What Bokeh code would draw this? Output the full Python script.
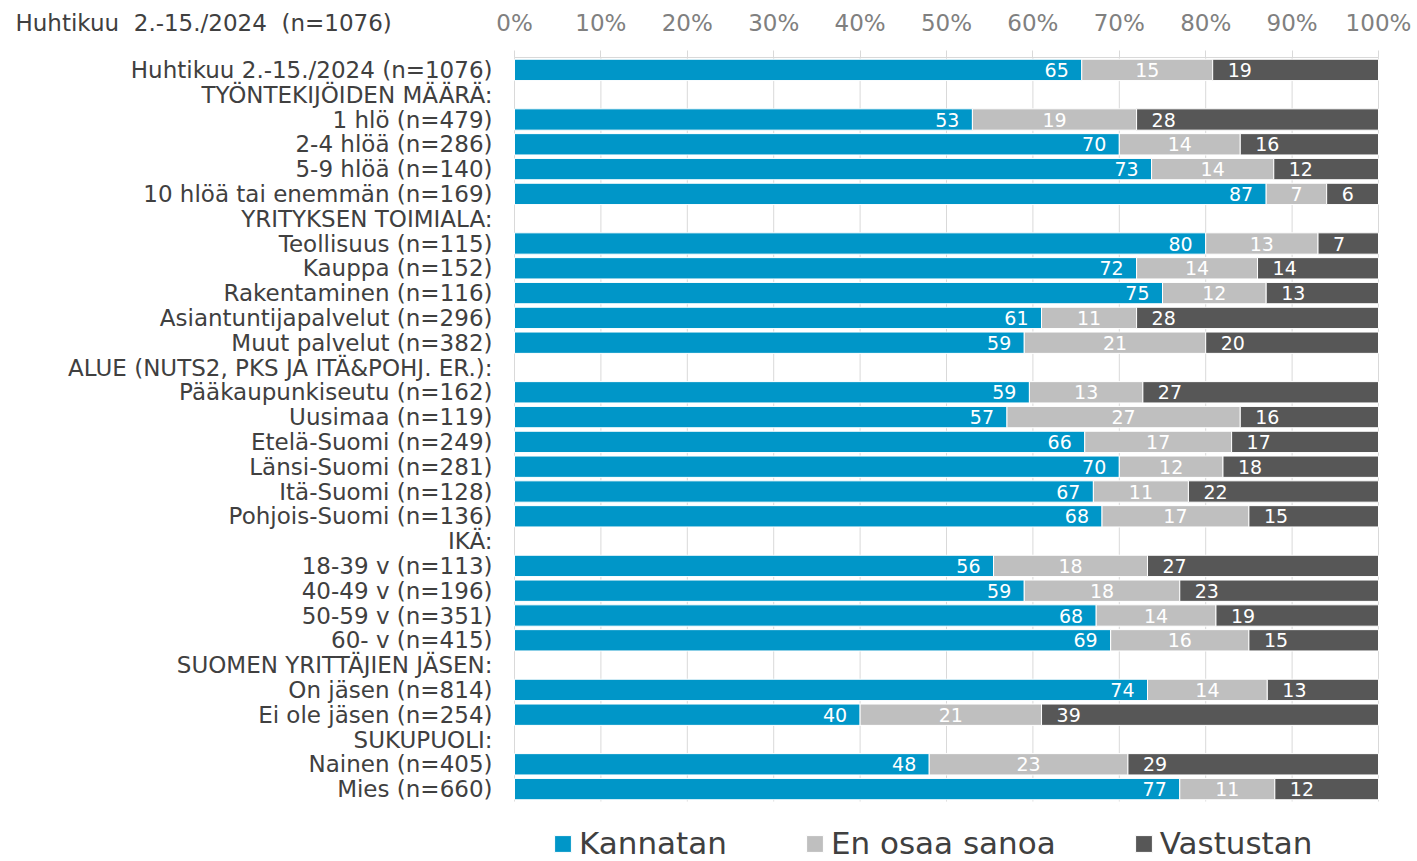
from bokeh.plotting import figure
from bokeh.models import (Range1d, FixedTicker, Label, Legend, LegendItem,
                          ColumnDataSource, LinearAxis)
from bokeh.embed import file_html
from bokeh.resources import INLINE
from bokeh.core.properties import value

title_text = "Huhtikuu\u00a0 2.-15./2024\u00a0 (n=1076)"

categories = [
    "Huhtikuu 2.-15./2024 (n=1076)",
    "TYÖNTEKIJÖIDEN MÄÄRÄ:",
    "1 hlö (n=479)",
    "2-4 hlöä (n=286)",
    "5-9 hlöä (n=140)",
    "10 hlöä tai enemmän (n=169)",
    "YRITYKSEN TOIMIALA:",
    "Teollisuus (n=115)",
    "Kauppa (n=152)",
    "Rakentaminen (n=116)",
    "Asiantuntijapalvelut (n=296)",
    "Muut palvelut (n=382)",
    "ALUE (NUTS2, PKS JA ITÄ&POHJ. ER.):",
    "Pääkaupunkiseutu (n=162)",
    "Uusimaa (n=119)",
    "Etelä-Suomi (n=249)",
    "Länsi-Suomi (n=281)",
    "Itä-Suomi (n=128)",
    "Pohjois-Suomi (n=136)",
    "IKÄ:",
    "18-39 v (n=113)",
    "40-49 v (n=196)",
    "50-59 v (n=351)",
    "60- v (n=415)",
    "SUOMEN YRITTÄJIEN JÄSEN:",
    "On jäsen (n=814)",
    "Ei ole jäsen (n=254)",
    "SUKUPUOLI:",
    "Nainen (n=405)",
    "Mies (n=660)",
]

kannatan = [65, None, 53, 70, 73, 87, None, 80, 72, 75, 61, 59, None,
            59, 57, 66, 70, 67, 68, None, 56, 59, 68, 69, None, 74, 40, None, 48, 77]
en_osaa = [15, None, 19, 14, 14, 7, None, 13, 14, 12, 11, 21, None,
           13, 27, 17, 12, 11, 17, None, 18, 18, 14, 16, None, 14, 21, None, 23, 11]
vastustan = [19, None, 28, 16, 12, 6, None, 7, 14, 13, 28, 20, None,
             27, 16, 17, 18, 22, 15, None, 27, 23, 19, 15, None, 13, 39, None, 29, 12]

series_names = ["Kannatan", "En osaa sanoa", "Vastustan"]
tick_values = [0, 10, 20, 30, 40, 50, 60, 70, 80, 90, 100]
tick_labels = ["0%", "10%", "20%", "30%", "40%", "50%", "60%", "70%", "80%", "90%", "100%"]

colors = ["#0096C8", "#BFBFBF", "#575757"]
FONT = "DejaVu Sans"

n_rows = len(categories)
row_idx = list(range(n_rows))

# stacked, 100%-normalised segments
segs = {s: dict(y=[], left=[], right=[], lab=[]) for s in range(3)}
for i in row_idx:
    vals = [kannatan[i], en_osaa[i], vastustan[i]]
    if vals[0] is None:
        continue
    total = float(sum(vals))
    cum = 0.0
    for s, v in enumerate(vals):
        r = cum + v * 100.0 / total
        segs[s]["y"].append(i)
        segs[s]["left"].append(cum)
        segs[s]["right"].append(r)
        segs[s]["lab"].append(str(v))
        cum = r

W, H = 1417, 861
x0_px, x100_px = 514.0, 1378.0          # plot area in pixels
row_px = 24.8
top_px = 57.0
ppu = (x100_px - x0_px) / 100.0
x_start = -x0_px / ppu
x_end = 100 + (W - x100_px) / ppu
y_top = -0.5 - top_px / row_px
y_bottom = y_top + H / row_px

p = figure(width=W, height=H,
           x_range=Range1d(x_start, x_end),
           y_range=Range1d(y_bottom, y_top),
           x_axis_location=None, y_axis_location=None,
           output_backend="svg", toolbar_location=None, min_border=0)
p.outline_line_color = None
p.background_fill_color = "white"
p.border_fill_color = "white"
p.grid.visible = False

# vertical gridlines over the category block
p.segment(x0=tick_values, x1=tick_values,
          y0=[-0.5] * len(tick_values), y1=[n_rows - 0.5] * len(tick_values),
          line_color="#D9D9D9", line_width=1, level="underlay")

# top percentage axis
xa = LinearAxis(fixed_location=-0.5, bounds=(0, 100))
xa.ticker = FixedTicker(ticks=tick_values)
xa.major_label_overrides = {v: t for v, t in zip(tick_values, tick_labels)}
xa.axis_line_color = "#D9D9D9"
xa.major_tick_line_color = "#D9D9D9"
xa.major_tick_out = 7
xa.major_tick_in = 0
xa.minor_tick_line_color = None
xa.major_label_text_font = FONT
xa.major_label_text_font_size = "23px"
xa.major_label_text_color = "#808080"
xa.major_label_standoff = 15
p.add_layout(xa, "above")

# category axis
ya = LinearAxis(fixed_location=0)
ya.ticker = FixedTicker(ticks=row_idx)
ya.major_label_overrides = {i: c for i, c in zip(row_idx, categories)}
ya.axis_line_color = None
ya.major_tick_line_color = None
ya.minor_tick_line_color = None
ya.major_label_text_font = FONT
ya.major_label_text_font_size = "23px"
ya.major_label_text_color = "#404040"
ya.major_label_standoff = 16
p.add_layout(ya, "left")

renderers = []
for s in range(3):
    src = ColumnDataSource(segs[s])
    r = p.hbar(y="y", left="left", right="right", height=0.86, source=src,
               fill_color=colors[s], line_color="white", line_width=1)
    renderers.append(r)
    if s == 0:
        xs, off, al = segs[s]["right"], -13, "right"
    elif s == 1:
        xs = [(a + b) / 2 for a, b in zip(segs[s]["left"], segs[s]["right"])]
        off, al = 0, "center"
    else:
        xs, off, al = segs[s]["left"], 15, "left"
    src2 = ColumnDataSource(dict(x=xs, y=segs[s]["y"], t=segs[s]["lab"]))
    p.text(x="x", y="y", text="t", source=src2, x_offset=off, text_align=al,
           text_baseline="middle", text_color="white", text_font=value(FONT),
           text_font_size="19px")

# title at top-left
p.add_layout(Label(x=x_start + 15 / ppu, y=y_top + 22 / row_px, text=title_text,
                   text_font=FONT, text_font_size="23px", text_color="#404040",
                   text_baseline="middle", text_align="left"))

legend = Legend(items=[LegendItem(label=n, renderers=[r]) for n, r in zip(series_names, renderers)],
                orientation="horizontal", location=(552, 0))
legend.label_text_font = FONT
legend.label_text_font_size = "31px"
legend.label_text_color = "#404040"
legend.glyph_width = 21
legend.glyph_height = 21
legend.label_standoff = 6
legend.spacing = 77
legend.padding = 0
legend.margin = 0
legend.border_line_color = None
legend.background_fill_alpha = 0
p.add_layout(legend, "center")

open("out.html", "w").write(file_html(p, INLINE))
